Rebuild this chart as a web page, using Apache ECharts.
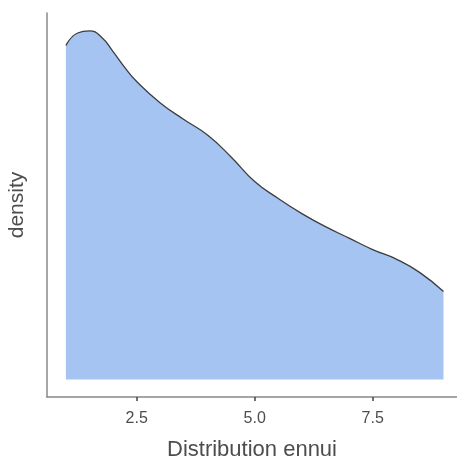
<!DOCTYPE html>
<html>
<head>
<meta charset="utf-8">
<script src="https://cdn.jsdelivr.net/npm/echarts@6/dist/echarts.min.js"></script>
<style>html,body{margin:0;padding:0;background:#fff}#c{width:457px;height:459px}</style>
</head>
<body>
<div id="c"></div>
<script>
const xValues = [1.00,1.25,1.50,1.75,2.00,2.25,2.50,3.00,3.50,4.00,4.50,5.00,5.50,6.00,6.50,7.00,7.50,8.00,8.50,9.00];
const densityValues = [0.2105,0.2184,0.2197,0.2159,0.2067,0.1966,0.1878,0.1743,0.1639,0.1541,0.1403,0.1248,0.1141,0.1046,0.0964,0.0891,0.0819,0.0759,0.0674,0.0555];
const xTicks = [2.5, 5.0, 7.5];
const xTitle = 'Distribution ennui';
const yTitle = 'density';

const chart = echarts.init(document.getElementById('c'), null, {renderer:'canvas'});
const font = 'Liberation Sans, Arial, sans-serif';
chart.setOption({
  animation: false,
  grid: {left: 47, right: 0, top: 13, bottom: 62, containLabel: false, outerBoundsMode: 'none'},
  xAxis: {
    type: 'value', min: 0.6, max: 9.286,
    name: xTitle, nameLocation: 'middle', nameGap: 42,
    nameTextStyle: {fontFamily: font, fontSize: 22, color: '#4d4d4d'},
    axisLine: {show: true, onZero: false, lineStyle: {color: '#888', width: 1.5}},
    axisTick: {show: true, customValues: xTicks, length: 4, lineStyle: {color: '#444', width: 1.5}},
    axisLabel: {customValues: xTicks, margin: 14, fontFamily: font, fontSize: 16, color: '#4d4d4d',
      formatter: v => v.toFixed(1)},
    splitLine: {show: false}
  },
  yAxis: {
    type: 'value', min: -0.011, max: 0.231,
    name: yTitle, nameLocation: 'middle', nameGap: 19, nameRotate: 90,
    nameTextStyle: {fontFamily: font, fontSize: 21, color: '#4d4d4d'},
    axisLine: {show: true, onZero: false, lineStyle: {color: '#888', width: 1.5}},
    axisTick: {show: false},
    axisLabel: {show: false},
    splitLine: {show: false}
  },
  series: [{
    type: 'line',
    data: xValues.map((x, i) => [x, densityValues[i]]),
    smooth: 0.5,
    showSymbol: false,
    lineStyle: {color: '#3d3d3d', width: 1.3},
    areaStyle: {color: '#a5c4f1', opacity: 1},
    z: 2
  }]
});
</script>
</body>
</html>
